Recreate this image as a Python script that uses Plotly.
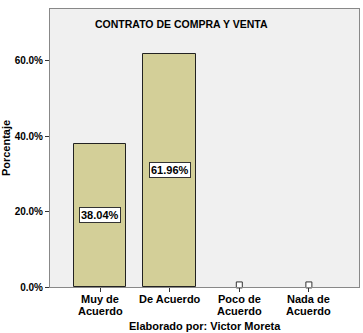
import plotly.graph_objects as go

categories = ["Muy de\nAcuerdo", "De Acuerdo", "Poco de\nAcuerdo", "Nada de\nAcuerdo"]
values = [38.04, 61.96, 0.0, 0.0]
labels = ["38.04%", "61.96%", "", ""]
y_ticks = [0, 20, 40, 60]
y_ticktext = ["0.0%", "20.0%", "40.0%", "60.0%"]

FONT = "Liberation Sans"
H = 333
PLOT_T, PLOT_B = 9, 46
fig = go.Figure()
fig.add_trace(go.Bar(
    x=list(range(len(categories))), y=values, width=0.755,
    marker=dict(color="#d3cf98",
                line=dict(color="#222222", width=[1 if v > 0 else 0 for v in values])),
    hoverinfo="skip",
))
zero_x = [i for i, v in enumerate(values) if v == 0]
fig.add_trace(go.Scatter(
    x=zero_x, y=[0.55] * len(zero_x), mode="markers",
    marker=dict(symbol="square", size=6, color="white", line=dict(color="#333333", width=1)),
    hoverinfo="skip", cliponaxis=False,
))
for i, (v, t) in enumerate(zip(values, labels)):
    if t:
        fig.add_annotation(x=i, y=v / 2, text="<b>" + t + "</b>", showarrow=False,
                           bgcolor="white", bordercolor="#333333", borderwidth=1, borderpad=1,
                           font=dict(family=FONT, size=11, color="black"))
# x tick labels, one annotation per line for tight line spacing
for i, c in enumerate(categories):
    for j, line in enumerate(c.split("\n")):
        fig.add_annotation(x=i, y=0, xref="x", yref="paper", yanchor="middle",
                           yshift=-(299 - (H - PLOT_B)) - 11.5 * j,
                           text="<b>" + line + "</b>", showarrow=False,
                           font=dict(family=FONT, size=11, color="black"))
fig.add_annotation(x=0.425, y=0.946, xref="paper", yref="paper", xanchor="center", yanchor="middle",
                   text="<b>CONTRATO DE COMPRA Y VENTA</b>", showarrow=False,
                   font=dict(family=FONT, size=10.5, color="black"))
fig.add_annotation(x=0.5, y=0, xref="paper", yref="paper", yanchor="middle",
                   yshift=-(326 - (H - PLOT_B)),
                   text="<b>Elaborado por: Victor Moreta</b>", showarrow=False,
                   font=dict(family=FONT, size=11, color="black"))

fig.update_layout(
    width=363, height=H,
    margin=dict(l=48, r=3, t=PLOT_T, b=PLOT_B),
    paper_bgcolor="white", plot_bgcolor="#f0f0f0",
    showlegend=False, bargap=0,
    font=dict(family=FONT, size=11, color="black"),
)
fig.update_xaxes(
    range=[-0.72, 3.72], tickmode="array", tickvals=list(range(len(categories))),
    ticktext=[""] * len(categories),
    ticks="outside", ticklen=4, tickcolor="#333333",
    showline=True, linecolor="#888888", linewidth=1, mirror=True, showgrid=False, zeroline=False,
)
fig.update_yaxes(
    range=[0, 73.8], tickmode="array", tickvals=y_ticks,
    ticktext=["<b>" + t + "</b>" for t in y_ticktext],
    ticks="outside", ticklen=4, tickcolor="#333333",
    showline=True, linecolor="#888888", linewidth=1, mirror=True, showgrid=False, zeroline=False,
    title=dict(text="<b>Porcentaje</b>", standoff=4, font=dict(family=FONT, size=11)),
    tickfont=dict(family=FONT, size=10),
)
fig.write_html("out.html")
